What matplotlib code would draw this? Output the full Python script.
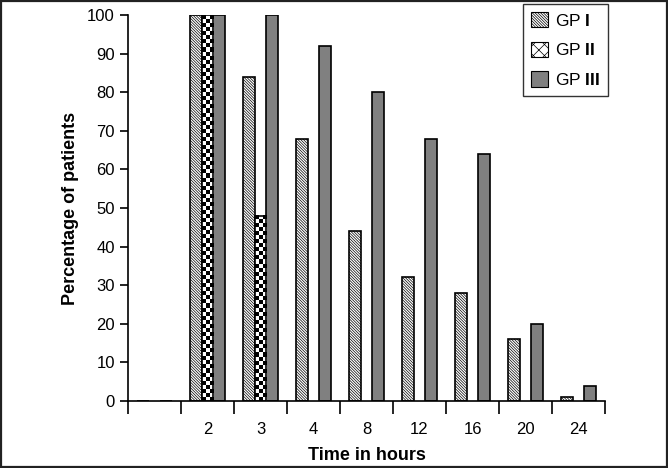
import numpy as np
import matplotlib.pyplot as plt
from matplotlib.patches import Rectangle

# Data
hours = ['', '2', '3', '4', '8', '12', '16', '20', '24']
gp1 = [0, 100, 84, 68, 44, 32, 28, 16, 1]
gp2 = [0, 100, 48, 0, 0, 0, 0, 0, 0]
gp3 = [0, 100, 100, 92, 80, 68, 64, 20, 4]
labels = [r'GP $\mathbf{I}$', r'GP $\mathbf{II}$', r'GP $\mathbf{III}$']

plt.rcParams['font.family'] = ['Liberation Sans', 'DejaVu Sans']
plt.rcParams['mathtext.fontset'] = 'custom'
plt.rcParams['mathtext.bf'] = 'Liberation Sans:bold'
plt.rcParams['hatch.linewidth'] = 0.5

fig = plt.figure(figsize=(6.68, 4.68), dpi=100)
ax = fig.add_axes([128 / 668, 1 - 401 / 468, 477 / 668, 386 / 468])

x = np.arange(len(hours))
w = 0.22
hatch1 = '\\' * 12

ax.bar(x - w, gp1, w, facecolor='white', edgecolor='black',
       hatch=hatch1, linewidth=1.2)
ax.bar(x + w, gp3, w, facecolor='#808080', edgecolor='black', linewidth=1.2)

# GP II bars: checkerboard fill inside each bar outline
cell = 1.05  # vertical cell size in data units
for xi, h in zip(x, gp2):
    if h <= 0:
        continue
    rows = int(round(h / cell))
    img = (np.indices((rows, 3)).sum(axis=0) % 2).astype(float)
    ax.imshow(img, cmap='gray', extent=(xi - w / 2, xi + w / 2, 0, h),
              aspect='auto', interpolation='nearest', zorder=2)
    ax.add_patch(Rectangle((xi - w / 2, 0), w, h, fill=False,
                           edgecolor='black', linewidth=1.2, zorder=3))

leg_handles = [Rectangle((0, 0), 1, 1, facecolor='white', edgecolor='black',
                         hatch=hatch1, linewidth=0.8),
               Rectangle((0, 0), 1, 1, facecolor='white', edgecolor='black',
                         hatch='xxx', linewidth=0.8),
               Rectangle((0, 0), 1, 1, facecolor='#808080', edgecolor='black',
                         linewidth=0.8)]
leg = ax.legend(leg_handles, labels, loc='upper right',
                bbox_to_anchor=(608 / 668, 1 - 4 / 468),
                bbox_transform=fig.transFigure, fontsize=12.5, frameon=True,
                fancybox=False, edgecolor='black', handlelength=1.0,
                handleheight=1.0, labelspacing=0.75, borderpad=0.45,
                handletextpad=0.4, borderaxespad=0)
leg.get_frame().set_linewidth(1.0)

ax.set_xlim(-0.5, len(hours) - 0.5)
ax.set_ylim(0, 100)
ax.set_yticks(np.arange(0, 101, 10))
ax.set_xticks(x)
ax.set_xticklabels(hours)
ax.set_xticks(np.arange(len(hours) + 1) - 0.5, minor=True)
ax.tick_params(axis='x', which='major', length=0, labelsize=12, pad=15)
ax.tick_params(axis='x', which='minor', length=9, width=1.2, direction='out')
ax.tick_params(axis='y', length=6, width=1.2, labelsize=12, direction='out')

for s in ['top', 'right']:
    ax.spines[s].set_visible(False)
for s in ['left', 'bottom']:
    ax.spines[s].set_linewidth(1.2)

ax.set_xlabel('Time in hours', fontsize=13, fontweight='bold', labelpad=7)
ax.set_ylabel('Percentage of patients', fontsize=13, fontweight='bold', labelpad=6)

# outer border around the figure
fig.patches.append(Rectangle((0.0015, 0.002), 0.997, 0.996, fill=False,
                             edgecolor='#222222', linewidth=1.6,
                             transform=fig.transFigure))

fig.savefig('out.png', dpi=100)
